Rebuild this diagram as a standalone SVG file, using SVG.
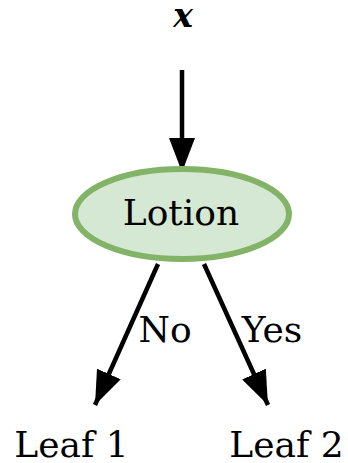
<svg xmlns="http://www.w3.org/2000/svg" width="348" height="463" viewBox="0 0 348 463">
  <style>
    .lbl { font-family: "DejaVu Serif", serif; font-size: 36px; fill: #000; text-anchor: middle; }
    .edge { stroke: #000; stroke-width: 4.5; fill: none; }
  </style>
  <defs>
    <marker id="head" viewBox="0 0 34 26" refX="34" refY="13" markerWidth="34" markerHeight="26" markerUnits="userSpaceOnUse" orient="auto">
      <path d="M0,0 L34,13 L0,26 Z" fill="#000"/>
    </marker>
  </defs>
  <g id="edges">
    <line class="edge" x1="182" y1="70" x2="182" y2="172" marker-end="url(#head)"/>
    <line class="edge" x1="158" y1="264" x2="95" y2="405" marker-end="url(#head)"/>
    <line class="edge" x1="204" y1="264" x2="268" y2="405" marker-end="url(#head)"/>
    <text class="lbl" x="165" y="342">No</text>
    <text class="lbl" x="272" y="342">Yes</text>
  </g>
  <g id="input">
    <text x="183" y="27" style="font-family: 'DejaVu Serif', serif; font-size: 33px; font-weight: bold; font-style: italic; text-anchor: middle;">x</text>
  </g>
  <g id="lotion">
    <ellipse cx="182" cy="214" rx="107" ry="45" fill="#d5e8d4" stroke="#82b366" stroke-width="6"/>
    <text class="lbl" x="181" y="225">Lotion</text>
  </g>
  <g id="leaf1">
    <text class="lbl" x="71.5" y="457">Leaf 1</text>
  </g>
  <g id="leaf2">
    <text class="lbl" x="286.5" y="457">Leaf 2</text>
  </g>
</svg>
